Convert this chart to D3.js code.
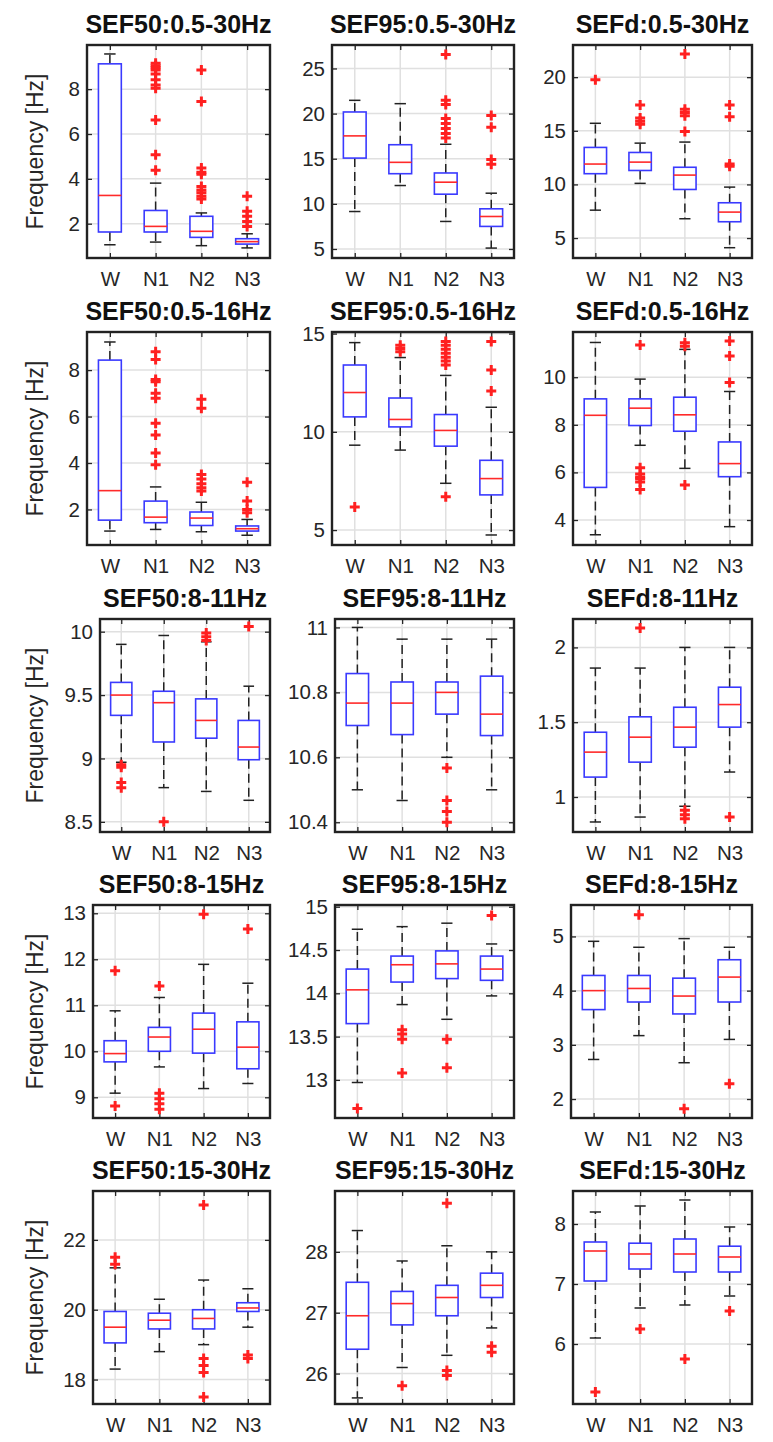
<!DOCTYPE html>
<meta charset="utf-8">
<body style="margin:0;background:#fff">
<script src="https://d3js.org/d3.v7.min.js"></script>
<script>
// sleep stages on the x axis of every panel
var stages = ["W", "N1", "N2", "N3"];

var titles = [
  "SEF50:0.5-30Hz", "SEF95:0.5-30Hz", "SEFd:0.5-30Hz",
  "SEF50:0.5-16Hz", "SEF95:0.5-16Hz", "SEFd:0.5-16Hz",
  "SEF50:8-11Hz", "SEF95:8-11Hz", "SEFd:8-11Hz",
  "SEF50:8-15Hz", "SEF95:8-15Hz", "SEFd:8-15Hz",
  "SEF50:15-30Hz", "SEF95:15-30Hz", "SEFd:15-30Hz"
];

// y limits and ticks of each panel
var yDomains = [
  [0.47, 9.97], [4.0, 27.6], [3.14, 23.0],
  [0.47, 9.64], [4.24, 15.08], [2.95, 11.9],
  [8.42, 10.1], [10.37, 11.026], [0.766, 2.19],
  [8.55, 13.18], [12.56, 15.02], [1.65, 5.58],
  [17.3, 23.4], [25.5, 29.0], [5.0, 8.55]
];
var yTicks = [
  [2, 4, 6, 8], [5, 10, 15, 20, 25], [5, 10, 15, 20],
  [2, 4, 6, 8], [5, 10, 15], [4, 6, 8, 10],
  [8.5, 9, 9.5, 10], [10.4, 10.6, 10.8, 11], [1, 1.5, 2],
  [9, 10, 11, 12, 13], [13, 13.5, 14, 14.5, 15], [2, 3, 4, 5],
  [18, 20, 22], [26, 27, 28], [6, 7, 8]
];

// box statistics, one row per panel, one value per stage
var lowerWhisker = [
  [1.06, 1.18, 1.02, 0.92], [9.15, 12.03, 8.05, 5.1], [7.6, 10.1, 6.8, 4.1],
  [1.07, 1.14, 1.04, 0.89], [9.32, 9.07, 7.38, 4.75], [3.38, 7.14, 6.17, 3.72],
  [8.97, 8.77, 8.74, 8.67], [10.5, 10.467, 10.6, 10.5], [0.833, 0.866, 0.938, 1.167],
  [9.09, 9.66, 9.19, 9.3], [12.97, 13.87, 13.7, 13.97], [2.73, 3.17, 2.67, 3.1],
  [18.3, 18.8, 19.0, 19.5], [25.6, 26.1, 26.3, 26.75], [6.1, 6.6, 6.65, 6.8]
];
var q1 = [
  [1.63, 1.63, 1.39, 1.09], [15.07, 13.34, 11.07, 7.5], [11.0, 11.3, 9.53, 6.52],
  [1.54, 1.43, 1.31, 1.07], [10.76, 10.25, 9.27, 6.79], [5.37, 7.97, 7.73, 5.82],
  [9.34, 9.13, 9.16, 8.99], [10.698, 10.67, 10.733, 10.667], [1.133, 1.233, 1.333, 1.467],
  [9.77, 10.0, 9.96, 9.62], [13.65, 14.13, 14.17, 14.15], [3.65, 3.79, 3.57, 3.79],
  [19.05, 19.45, 19.45, 19.95], [26.4, 26.8, 26.95, 27.25], [7.05, 7.25, 7.2, 7.2]
];
var median = [
  [3.26, 1.88, 1.66, 1.2], [17.53, 14.6, 12.4, 8.6], [11.9, 12.08, 10.87, 7.42],
  [2.81, 1.67, 1.63, 1.17], [12.0, 10.63, 10.07, 7.62], [8.4, 8.7, 8.42, 6.37],
  [9.5, 9.44, 9.3, 9.09], [10.767, 10.767, 10.8, 10.733], [1.3, 1.4, 1.467, 1.618],
  [9.95, 10.31, 10.48, 10.09], [14.04, 14.33, 14.34, 14.28], [4.0, 4.04, 3.9, 4.25],
  [19.5, 19.7, 19.75, 20.05], [26.95, 27.15, 27.25, 27.45], [7.55, 7.5, 7.5, 7.45]
];
var q3 = [
  [9.13, 2.59, 2.33, 1.33], [20.18, 16.55, 13.42, 9.45], [13.45, 12.98, 11.6, 8.29],
  [8.43, 2.36, 1.89, 1.29], [13.4, 11.72, 10.88, 8.55], [9.09, 9.09, 9.16, 7.28],
  [9.6, 9.53, 9.47, 9.3], [10.858, 10.832, 10.832, 10.85], [1.433, 1.536, 1.6, 1.734],
  [10.23, 10.52, 10.83, 10.64], [14.28, 14.43, 14.49, 14.43], [4.28, 4.28, 4.23, 4.57],
  [19.95, 19.9, 20.0, 20.2], [27.5, 27.35, 27.45, 27.65], [7.7, 7.68, 7.75, 7.63]
];
var upperWhisker = [
  [9.57, 3.81, 2.48, 1.55], [21.47, 21.1, 16.6, 11.18], [15.7, 13.85, 13.95, 9.75],
  [9.21, 2.97, 2.31, 1.57], [14.54, 13.78, 12.87, 11.25], [11.46, 9.92, 11.17, 9.4],
  [9.9, 9.97, 9.92, 9.57], [11.0, 10.964, 10.964, 10.964], [1.862, 1.862, 2.0, 2.0],
  [10.88, 11.17, 11.89, 11.48], [14.74, 14.77, 14.81, 14.57], [4.91, 4.8, 4.96, 4.8],
  [21.2, 20.3, 20.85, 20.6], [28.35, 27.85, 28.1, 28.0], [8.2, 8.3, 8.4, 7.95]
];
var outliers = [
  [[], [9.16, 9.05, 8.95, 8.85, 8.68, 8.42, 8.19, 8.04, 6.63, 5.07, 4.38], [8.86, 7.45, 4.48, 4.3, 4.2, 3.66, 3.5, 3.38, 3.22, 3.1], [3.22, 2.55, 2.33, 2.1, 1.88]],
  [[], [], [26.55, 21.47, 21.0, 19.45, 18.9, 18.35, 17.8, 17.3], [19.8, 18.5, 14.9, 14.4]],
  [[19.75], [17.4, 16.2, 15.9, 15.6], [22.17, 17.0, 16.7, 16.4, 14.94], [17.4, 16.3, 11.9, 11.7]],
  [[], [8.79, 8.46, 7.6, 7.5, 7.0, 6.79, 5.71, 5.21, 4.43, 3.93], [6.75, 6.36, 3.5, 3.31, 3.11, 2.93, 2.79], [3.17, 2.36, 2.0, 1.86]],
  [[6.18], [14.41, 14.24, 14.07], [14.6, 14.4, 14.2, 14.0, 13.8, 13.6, 13.4, 6.7], [14.6, 13.14, 12.08]],
  [[], [11.35, 6.2, 5.93, 5.8, 5.73, 5.6, 5.28], [11.45, 11.3, 5.47], [11.52, 10.89, 9.78]],
  [[8.95, 8.93, 8.81, 8.77], [8.5], [9.99, 9.96, 9.93], [10.04]],
  [[], [], [10.567, 10.467, 10.433, 10.4], []],
  [[], [2.13], [0.911, 0.882, 0.855], [0.866]],
  [[11.75, 8.81], [11.42, 9.09, 8.97, 8.86, 8.74], [12.98], [12.66]],
  [[12.67], [13.58, 13.53, 13.47, 13.08], [13.47, 13.14], [14.9]],
  [[], [5.4], [1.82], [2.28]],
  [[21.5, 21.3], [], [23.0, 18.6, 18.4, 18.2, 17.5], [18.7, 18.6]],
  [[], [25.8], [28.8, 26.05, 25.97], [26.45, 26.35]],
  [[5.2], [6.25], [5.75], [6.55]]
];

// panel placement (pixels)
var rowTop = [45, 332, 619, 905, 1191];
var colLeft = [[87, 332, 573], [87, 332, 573], [100, 335, 573], [93, 335, 571], [93, 335, 573]];
var colRight = [270, 514, 752];
var panelH = 213;

var font = "'Liberation Sans', Arial, Helvetica, sans-serif";

var svg = d3.select("body").append("svg")
    .attr("width", 773)
    .attr("height", 1442)
    .style("font-family", font);

titles.forEach(function(title, p) {
  var row = Math.floor(p / 3), col = p % 3;
  var left = colLeft[row][col], w = colRight[col] - left, h = panelH;

  var g = svg.append("g").attr("transform", "translate(" + left + "," + rowTop[row] + ")");

  var x = d3.scalePoint().domain(stages).range([0, w]).padding(0.5);
  var y = d3.scaleLinear().domain(yDomains[p]).range([h, 0]);
  var step = x.step();

  // grid
  g.append("g").selectAll("line").data(yTicks[p]).enter().append("line")
      .attr("x1", 0).attr("x2", w)
      .attr("y1", function(d) { return y(d); }).attr("y2", function(d) { return y(d); })
      .style("stroke", "#e0e0e0").style("stroke-width", 1.5);
  g.append("g").selectAll("line").data(stages).enter().append("line")
      .attr("x1", function(d) { return x(d); }).attr("x2", function(d) { return x(d); })
      .attr("y1", 0).attr("y2", h)
      .style("stroke", "#e0e0e0").style("stroke-width", 1.5);

  // axes with inward ticks
  var yl = g.append("g").call(d3.axisLeft(y).tickValues(yTicks[p]).tickSize(-5).tickPadding(7).tickFormat(d3.format("")));
  var yr = g.append("g").attr("transform", "translate(" + w + ",0)")
      .call(d3.axisRight(y).tickValues(yTicks[p]).tickSize(-5).tickFormat(""));
  var xt = g.append("g").call(d3.axisTop(x).tickSize(-5).tickFormat(""));
  var xb = g.append("g").attr("transform", "translate(0," + h + ")")
      .call(d3.axisBottom(x).tickSize(-5).tickPadding(13));
  [yl, yr, xt, xb].forEach(function(a) {
    a.select(".domain").remove();
    a.selectAll(".tick line").style("stroke", "#262626").style("stroke-width", 1.3);
    a.selectAll("text").style("font-family", font).style("font-size", "20.5px").style("fill", "#262626");
  });

  // boxes
  var bw = step * 0.5, cw = step * 0.25;
  var boxes = g.append("g").selectAll("g").data(stages).enter().append("g")
      .attr("transform", function(d) { return "translate(" + x(d) + ",0)"; });

  boxes.append("line") // upper whisker
      .attr("y1", function(d, i) { return y(q3[p][i]); })
      .attr("y2", function(d, i) { return y(upperWhisker[p][i]); })
      .style("stroke", "#222").style("stroke-width", 1.5).style("stroke-dasharray", "9,5");
  boxes.append("line") // lower whisker
      .attr("y1", function(d, i) { return y(q1[p][i]); })
      .attr("y2", function(d, i) { return y(lowerWhisker[p][i]); })
      .style("stroke", "#222").style("stroke-width", 1.5).style("stroke-dasharray", "9,5");
  boxes.append("line")
      .attr("x1", -cw / 2).attr("x2", cw / 2)
      .attr("y1", function(d, i) { return y(upperWhisker[p][i]); })
      .attr("y2", function(d, i) { return y(upperWhisker[p][i]); })
      .style("stroke", "#222").style("stroke-width", 1.5);
  boxes.append("line")
      .attr("x1", -cw / 2).attr("x2", cw / 2)
      .attr("y1", function(d, i) { return y(lowerWhisker[p][i]); })
      .attr("y2", function(d, i) { return y(lowerWhisker[p][i]); })
      .style("stroke", "#222").style("stroke-width", 1.5);
  boxes.append("rect")
      .attr("x", -bw / 2).attr("width", bw)
      .attr("y", function(d, i) { return y(q3[p][i]); })
      .attr("height", function(d, i) { return y(q1[p][i]) - y(q3[p][i]); })
      .style("fill", "#fff").style("stroke", "#3a3aff").style("stroke-width", 1.6);
  boxes.append("line")
      .attr("x1", -bw / 2).attr("x2", bw / 2)
      .attr("y1", function(d, i) { return y(median[p][i]); })
      .attr("y2", function(d, i) { return y(median[p][i]); })
      .style("stroke", "#ff2a2a").style("stroke-width", 1.6);

  // outliers as red plus signs
  boxes.each(function(d, i) {
    d3.select(this).selectAll("path.out").data(outliers[p][i]).enter().append("path")
        .attr("class", "out")
        .attr("d", function(v) { var yy = y(v); return "M-5," + yy + "H5M0," + (yy - 5) + "V" + (yy + 5); })
        .style("stroke", "#ff2020").style("stroke-width", 3).style("fill", "none");
  });

  // frame
  g.append("rect").attr("width", w).attr("height", h)
      .style("fill", "none").style("stroke", "#222").style("stroke-width", 2.4);

  // title
  g.append("text")
      .attr("x", w / 2).attr("y", -12)
      .style("text-anchor", "middle")
      .style("font-size", "25px").style("font-weight", "bold").style("fill", "#111")
      .text(title);

  // y label on the first column
  if (col === 0) {
    g.append("text")
        .attr("transform", "translate(" + (35 - left) + "," + (h / 2) + ") rotate(-90)")
        .attr("dy", "0.35em")
        .style("text-anchor", "middle")
        .style("font-size", "23px").style("fill", "#262626")
        .text("Frequency [Hz]");
  }
});
</script>
</body>
